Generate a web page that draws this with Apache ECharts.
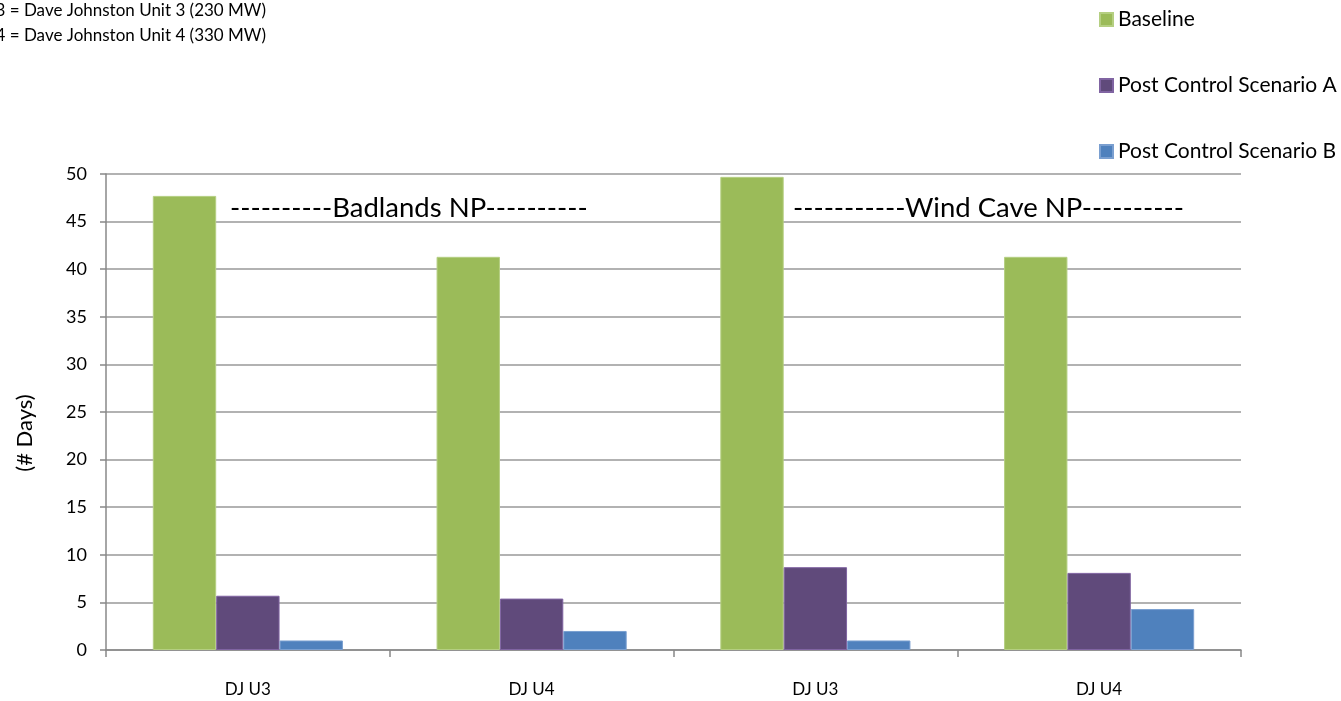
<!DOCTYPE html>
<html><head><meta charset="utf-8">
<script src="https://cdn.jsdelivr.net/npm/echarts@6/dist/echarts.min.js"></script>
<style>html,body{margin:0;padding:0;background:#fff;}#c{width:1341px;height:701px;}</style>
</head><body><div id="c"></div>
<script>
const categories = ['DJ U3', 'DJ U4', 'DJ U3 ', 'DJ U4 '];
const baseline = [47.7, 41.3, 49.7, 41.3];
const scenarioA = [5.7, 5.4, 8.7, 8.1];
const scenarioB = [1.0, 2.0, 1.0, 4.3];
const seriesNames = ['Baseline', 'Post Control Scenario A', 'Post Control Scenario B'];
const colors = ['#9BBB59', '#604A7B', '#4F81BD'];
const borders = ['#B5CF82', '#8064A2', '#7A9FD0'];
const yTicks = [0, 5, 10, 15, 20, 25, 30, 35, 40, 45, 50];
const FONT = 'Lato';

const chart = echarts.init(document.getElementById('c'));
const data = [baseline, scenarioA, scenarioB];
chart.setOption({
  animation: false,
  color: colors,
  textStyle: { fontFamily: FONT },
  grid: { left: 106, right: 100, top: 174, bottom: 51, containLabel: false },
  legend: {
    orient: 'vertical', left: 1094, top: 4, itemGap: 45,
    icon: 'rect', itemWidth: 13, itemHeight: 13,
    textStyle: { fontSize: 21, color: '#000', fontFamily: FONT },
    data: seriesNames
  },
  xAxis: {
    type: 'category', data: categories,
    axisLine: { lineStyle: { color: '#888', width: 1.5 } },
    axisTick: { show: true, length: 7, lineStyle: { color: '#888', width: 1.5 } },
    axisLabel: { color: '#000', fontSize: 17, margin: 31, fontFamily: FONT,
      formatter: v => v.trim() }
  },
  yAxis: {
    type: 'value', min: yTicks[0], max: yTicks[yTicks.length - 1], interval: 5,
    axisLine: { show: true, lineStyle: { color: '#888', width: 1.5 } },
    axisTick: { show: true, length: 6, lineStyle: { color: '#888', width: 1.5 } },
    axisLabel: { color: '#000', fontSize: 18, margin: 19, fontFamily: FONT },
    splitLine: { lineStyle: { color: '#999', width: 1.5 } }
  },
  series: seriesNames.map((n, i) => ({
    name: n, type: 'bar', data: data[i],
    barGap: '0%', barCategoryGap: '33%',
    itemStyle: { color: colors[i], borderColor: borders[i], borderWidth: 1 }
  })),
  graphic: [
    { type: 'text', left: 230, top: 194, style: { text: '----------Badlands NP----------', font: '27.5px ' + FONT, fill: '#000' } },
    { type: 'text', left: 793, top: 194, style: { text: '-----------Wind Cave NP----------', font: '27.5px ' + FONT, fill: '#000' } },
    { type: 'text', right: 1075, top: 2, style: { text: 'DJ U3 = Dave Johnston Unit 3 (230 MW)', font: '17px ' + FONT, fill: '#000', textAlign: 'right' } },
    { type: 'text', right: 1075, top: 27, style: { text: 'DJ U4 = Dave Johnston Unit 4 (330 MW)', font: '17px ' + FONT, fill: '#000', textAlign: 'right' } },
    { type: 'text', x: 25, y: 433, rotation: Math.PI / 2, style: { text: '(# Days)', font: '22px ' + FONT, fill: '#000', textAlign: 'center', textVerticalAlign: 'middle' } }
  ]
});
</script></body></html>
